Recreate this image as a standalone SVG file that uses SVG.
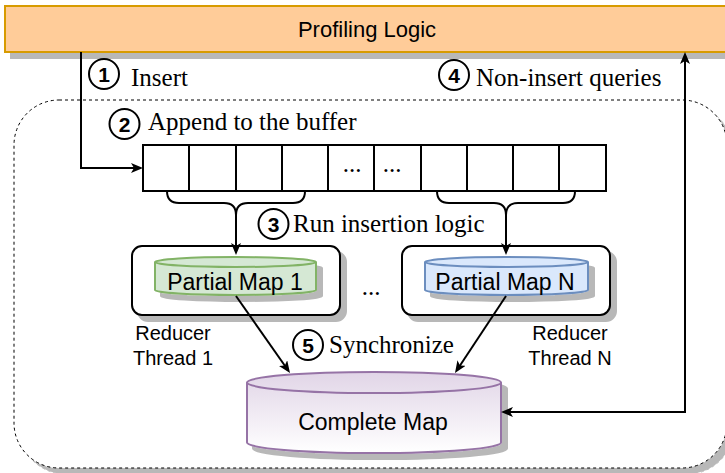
<svg xmlns="http://www.w3.org/2000/svg" width="725" height="473" viewBox="0 0 725 473">
<defs>
<style>
.sans{font-family:"Liberation Sans",Arial,sans-serif;fill:#000}
.serif{font-family:"Liberation Serif","Times New Roman",serif;font-size:25px;fill:#000}
.num{font-family:"Liberation Sans",Arial,sans-serif;font-size:21px;font-weight:bold;text-anchor:middle;fill:#000}
.circ{fill:#fff;stroke:#000;stroke-width:2}
.cell{fill:#fff;stroke:#000;stroke-width:2}
.conn{fill:none;stroke:#000;stroke-width:2}
.box{fill:#fff;stroke:#000;stroke-width:2}
</style>
<filter id="sh" x="-10%" y="-10%" width="130%" height="140%">
<feGaussianBlur in="SourceAlpha" stdDeviation="0.6"/>
<feOffset dx="6" dy="6" result="o"/>
<feComponentTransfer><feFuncA type="linear" slope="0.28"/></feComponentTransfer>
<feMerge><feMergeNode/><feMergeNode in="SourceGraphic"/></feMerge>
</filter>
<linearGradient id="pg" x1="0" y1="0" x2="0" y2="1">
<stop offset="0" stop-color="#e1d5e7"/>
<stop offset="1" stop-color="#ffffff"/>
</linearGradient>
<marker id="ah" markerUnits="userSpaceOnUse" markerWidth="14" markerHeight="12" refX="8" refY="5" orient="auto-start-reverse">
<path d="M0,0 L12,5 L0,10 L3,5 Z" fill="#000"/>
</marker>
</defs>
<rect width="725" height="473" fill="#fff"/>

<g id="container">
<rect x="14" y="100" width="713" height="368" rx="45" ry="45" fill="#fff" stroke="#000" stroke-width="1" stroke-dasharray="3 3" filter="url(#sh)"/>
</g>

<g id="profiling-logic">
<rect x="5" y="6" width="730" height="46" fill="#ffcc99" stroke="#d79b00" stroke-width="2" filter="url(#sh)"/>
<text class="sans" x="367" y="37" font-size="22" text-anchor="middle">Profiling Logic</text>
</g>

<g id="buffer">
<rect class="cell" x="143" y="145" width="463" height="46"/>
<path class="conn" d="M189,145V191M236,145V191M282,145V191M328,145V191M374,145V191M421,145V191M467,145V191M513,145V191M559,145V191"/>
<text class="serif" x="352" y="172" text-anchor="middle">...</text>
<text class="serif" x="392" y="172" text-anchor="middle">...</text>
</g>

<g id="reducer-1">
<rect class="box" x="132" y="246" width="208" height="69" rx="10" ry="10" filter="url(#sh)"/>
<g filter="url(#sh)">
<path d="M155,262 a80.5,5 0 0,1 161,0 V290 a80.5,5 0 0,1 -161,0 Z" fill="#d5e8d4" stroke="#82b366" stroke-width="2"/>
</g>
<path d="M155,262 a80.5,5 0 0,0 161,0" fill="none" stroke="#82b366" stroke-width="2"/>
<text class="sans" x="235" y="290" font-size="23" text-anchor="middle">Partial Map 1</text>
<text class="sans" x="173" y="340" font-size="20" text-anchor="middle">Reducer</text>
<text class="sans" x="173" y="365" font-size="20" text-anchor="middle">Thread 1</text>
</g>

<g id="reducer-n">
<rect class="box" x="402" y="246" width="208" height="69" rx="10" ry="10" filter="url(#sh)"/>
<g filter="url(#sh)">
<path d="M425,262 a81.5,5 0 0,1 163,0 V290 a81.5,5 0 0,1 -163,0 Z" fill="#dae8fc" stroke="#6c8ebf" stroke-width="2"/>
</g>
<path d="M425,262 a81.5,5 0 0,0 163,0" fill="none" stroke="#6c8ebf" stroke-width="2"/>
<text class="sans" x="505" y="290" font-size="23" text-anchor="middle">Partial Map N</text>
<text class="sans" x="570" y="340" font-size="20" text-anchor="middle">Reducer</text>
<text class="sans" x="570" y="365" font-size="20" text-anchor="middle">Thread N</text>
</g>

<g id="reducer-dots">
<text class="serif" x="371" y="295" text-anchor="middle">...</text>
</g>

<g id="complete-map">
<g filter="url(#sh)">
<path d="M247,382.5 a127,10.5 0 0,1 254,0 V442.5 a127,10.5 0 0,1 -254,0 Z" fill="url(#pg)" stroke="#9673a6" stroke-width="2"/>
</g>
<path d="M247,382.5 a127,10.5 0 0,0 254,0" fill="none" stroke="#9673a6" stroke-width="2"/>
<text class="sans" x="373" y="430" font-size="23" text-anchor="middle">Complete Map</text>
</g>

<g id="connectors">
<path class="conn" d="M81,52 V168 H139" marker-end="url(#ah)"/>
<path class="conn" d="M167,191 Q167,203 179,203 H224 Q236,203 236,215 M305,191 Q305,203 293,203 H248 Q236,203 236,215"/>
<path class="conn" d="M236,213 V251" marker-end="url(#ah)"/>
<path class="conn" d="M437,191 Q437,203 449,203 H494 Q506,203 506,215 M575,191 Q575,203 563,203 H518 Q506,203 506,215"/>
<path class="conn" d="M506,213 V251" marker-end="url(#ah)"/>
<path class="conn" d="M236,296 L287.7,369.7" marker-end="url(#ah)"/>
<path class="conn" d="M506,296 L457.2,369.7" marker-end="url(#ah)"/>
<path class="conn" d="M505,412 H685 V56" marker-start="url(#ah)" marker-end="url(#ah)"/>
</g>

<g id="step-1">
<circle class="circ" cx="104" cy="74" r="15"/>
<text class="num" x="104" y="81.5">1</text>
<text class="serif" x="131" y="86">Insert</text>
</g>
<g id="step-2">
<circle class="circ" cx="124.5" cy="124" r="15"/>
<text class="num" x="124.5" y="131.5">2</text>
<text class="serif" x="148" y="130">Append to the buffer</text>
</g>
<g id="step-3">
<circle class="circ" cx="273.5" cy="224" r="15"/>
<text class="num" x="273.5" y="231.5">3</text>
<text class="serif" x="293" y="232">Run insertion logic</text>
</g>
<g id="step-4">
<circle class="circ" cx="454" cy="75" r="15"/>
<text class="num" x="454" y="82.5">4</text>
<text class="serif" x="476" y="86">Non-insert queries</text>
</g>
<g id="step-5">
<circle class="circ" cx="308" cy="345" r="15"/>
<text class="num" x="308" y="352.5">5</text>
<text class="serif" x="329" y="353">Synchronize</text>
</g>
</svg>
